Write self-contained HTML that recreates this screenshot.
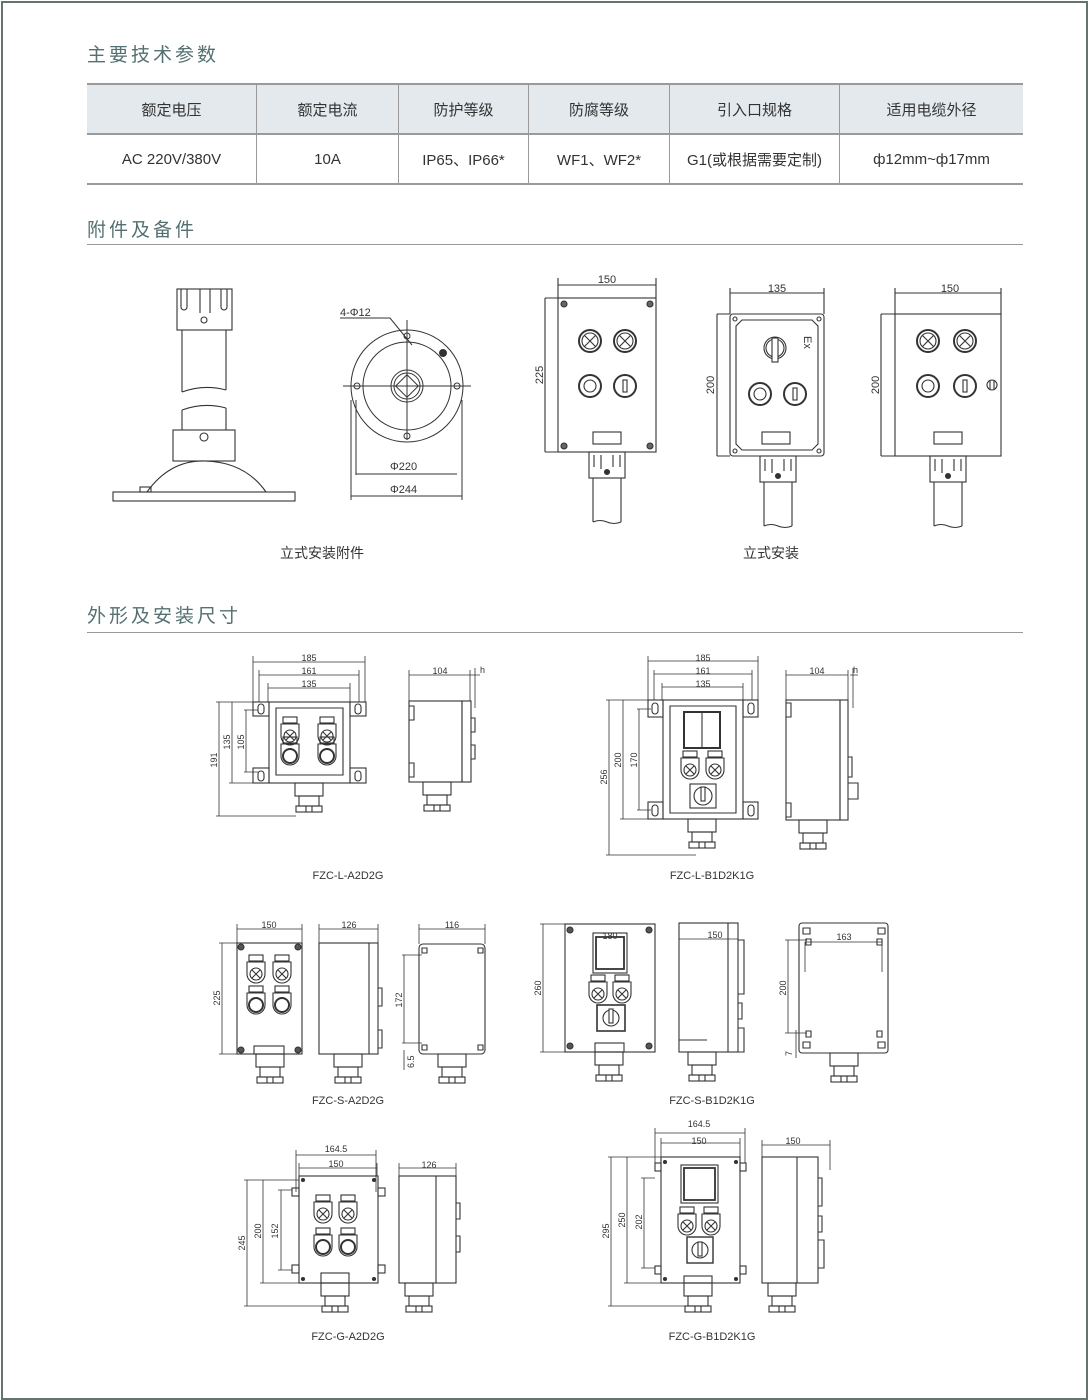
<!DOCTYPE html>
<html><head><meta charset="utf-8"><style>
html,body{margin:0;padding:0;background:#fff;}
body{width:1088px;height:1400px;position:relative;overflow:hidden;font-family:"Liberation Sans","Noto Sans CJK SC",sans-serif;}
.frame{position:absolute;left:1px;top:1px;width:1083px;height:1395px;border:2px solid #66746f;box-sizing:content-box;}
.h{position:absolute;left:87px;color:#557070;font-size:19px;letter-spacing:3px;}
.rule{position:absolute;left:87px;width:936px;height:1px;background:#999;}
table{position:absolute;left:87px;top:83px;width:936px;border-collapse:collapse;font-size:15px;color:#333;}
td{text-align:center;border-left:1px solid #9a9a9a;height:48px;padding:0;}
td:first-child{border-left:none;}
tr.hd td{background:#e3e9ed;border-bottom:2px solid #9a9a9a;border-top:2px solid #9a9a9a;}
tr.bd td{border-bottom:2px solid #9a9a9a;}
svg{position:absolute;left:0;top:0;}
svg text{fill:#333;stroke:none;}
</style></head><body>
<div class="frame"></div>
<div class="h" style="top:40px">主要技术参数</div>
<table>
<tr class="hd"><td style="width:169px">额定电压</td><td style="width:141px">额定电流</td><td style="width:129px">防护等级</td><td style="width:140px">防腐等级</td><td style="width:169px">引入口规格</td><td>适用电缆外径</td></tr>
<tr class="bd"><td>AC 220V/380V</td><td>10A</td><td>IP65、IP66*</td><td>WF1、WF2*</td><td>G1(或根据需要定制)</td><td>ф12mm~ф17mm</td></tr>
</table>
<div class="h" style="top:215px">附件及备件</div>
<div class="rule" style="top:244px"></div>
<div class="h" style="top:601px">外形及安装尺寸</div>
<div class="rule" style="top:632px"></div>

<svg width="1088" height="1400" viewBox="0 0 1088 1400" fill="none" stroke="#333" stroke-width="1.1" font-family="Liberation Sans, sans-serif">
<defs>
<g id="lamp"><circle r="11" stroke-width="2"/><circle r="8"/><path d="M-5.5-5.5L5.5 5.5M5.5-5.5L-5.5 5.5"/></g>
<g id="btnO"><circle r="11" stroke-width="2"/><circle r="6"/></g>
<g id="btnI"><circle r="11" stroke-width="2"/><rect x="-2" y="-6" width="4" height="12"/></g>
<g id="slamp"><rect x="-7" y="-15" width="14" height="6"/><path d="M-9-8h18v12a9 9 0 0 1-18 0z"/><circle cy="4" r="6"/><path d="M-4 0l8 8M4 0l-8 8"/></g>
<g id="sbtn"><rect x="-7" y="-15" width="14" height="6"/><path d="M-9-8h18v12a9 9 0 0 1-18 0z"/><ellipse cy="4" rx="7" ry="7" stroke-width="2"/></g>
<g id="gland"><rect x="-14" y="0" width="28" height="13"/><rect x="-10" y="13" width="20" height="10"/><rect x="-13" y="23" width="26" height="6"/><path d="M-3 23v6M3 23v6"/></g>
<g id="cable"><rect x="-18" y="0" width="36" height="26"/><path d="M-13 3v12M-6 3v14M6 3v12M13 3v12"/><circle cy="20" r="2.5" fill="#333"/><path d="M-14 26v44M14 26v44M-14 70q7-3 14 0t14 0"/></g>
</defs>

<!-- stand -->
<rect x="177" y="289" width="55" height="41"/>
<path d="M181 289v18a3 3 0 0 0 6 0v-18M200 289v24M210 289v24M221 289v18a3 3 0 0 0 6 0v-18"/>
<circle cx="204" cy="320" r="3"/>
<path d="M182 330v62M226 330v60M182 392q22-8 44-2"/>
<path d="M182 410q22-8 44-2M182 410v20M226 408v22"/>
<rect x="173" y="430" width="62" height="31"/>
<circle cx="204" cy="437" r="4"/>
<path d="M147 492Q170 460 205 461Q245 462 266 492"/>
<rect x="113" y="492" width="182" height="9"/>
<rect x="140" y="487" width="11" height="5"/>
<!-- flange -->
<g stroke-width="1">
<circle cx="407" cy="386" r="56"/><circle cx="407" cy="386" r="44"/>
<circle cx="407" cy="386" r="16"/><circle cx="407" cy="386" r="13"/>
<rect x="399" y="378" width="16" height="16" transform="rotate(45 407 386)"/>
<path d="M343 386h128M407 320v120"/>
<circle cx="407" cy="336" r="3"/><circle cx="407" cy="436" r="3"/><circle cx="357" cy="386" r="3"/><circle cx="457" cy="386" r="3"/>
<path d="M340 318h50l22 27M351 400v100M462 400v100M356 400v75"/>
<path d="M356 474h101M351 496h111"/>
<circle cx="443" cy="353" r="3.5" fill="#333"/>
</g>
<text x="340" y="316" font-size="11">4-Φ12</text>
<text x="390" y="470" font-size="11">Φ220</text>
<text x="390" y="493" font-size="11">Φ244</text>
<text x="322" y="558" font-size="14" text-anchor="middle" font-family="Liberation Sans, Noto Sans CJK SC, sans-serif">立式安装附件</text>

<!-- box1 -->
<rect x="558" y="298" width="98" height="154"/>
<circle cx="564" cy="304" r="3" fill="#666"/><circle cx="650" cy="304" r="3" fill="#666"/><circle cx="564" cy="446" r="3" fill="#666"/><circle cx="650" cy="446" r="3" fill="#666"/>
<use href="#lamp" x="590" y="341"/><use href="#lamp" x="625" y="341"/><use href="#btnO" x="590" y="386"/><use href="#btnI" x="625" y="386"/>
<rect x="593" y="432" width="28" height="12"/>
<use href="#cable" x="607" y="452"/>
<path d="M558 278v20M656 278v20M558 285h98M545 298h13M545 452h13M545 298v154"/>
<text x="607" y="283" font-size="11" text-anchor="middle">150</text>
<text transform="translate(543 375) rotate(-90)" font-size="11" text-anchor="middle">225</text>
<!-- box2 -->
<rect x="730" y="314" width="94" height="142" rx="3"/>
<path d="M742 320h70l6 6v118l-6 6h-70l-6-6v-118z"/>
<circle cx="735" cy="319" r="2"/><circle cx="819" cy="319" r="2"/><circle cx="735" cy="451" r="2"/><circle cx="819" cy="451" r="2"/>
<circle cx="775" cy="348" r="11"/><circle cx="775" cy="348" r="9"/><rect x="772" y="338" width="6" height="24" fill="#fff"/>
<use href="#btnO" x="760" y="394"/><use href="#btnI" x="795" y="394"/>
<rect x="762" y="432" width="28" height="12"/>
<text transform="translate(804 336) rotate(90)" font-size="11">Ex</text>
<use href="#cable" x="778" y="456"/>
<path d="M730 288v26M824 288v26M730 293h94M717 314h13M717 456h13M717 314v142"/>
<text x="777" y="292" font-size="11" text-anchor="middle">135</text>
<text transform="translate(714 385) rotate(-90)" font-size="11" text-anchor="middle">200</text>
<!-- box3 -->
<rect x="895" y="314" width="106" height="142"/>
<use href="#lamp" x="928" y="341"/><use href="#lamp" x="965" y="341"/><use href="#btnO" x="928" y="386"/><use href="#btnI" x="965" y="386"/>
<circle cx="992" cy="385" r="5"/><path d="M990 381v8M994 381v8"/>
<rect x="934" y="432" width="28" height="12"/>
<use href="#cable" x="948" y="456"/>
<path d="M895 288v26M1001 288v26M895 293h106M881 314h14M881 456h14M881 314v142"/>
<text x="950" y="292" font-size="11" text-anchor="middle">150</text>
<text transform="translate(879 385) rotate(-90)" font-size="11" text-anchor="middle">200</text>
<text x="771" y="558" font-size="14" text-anchor="middle" font-family="Liberation Sans, Noto Sans CJK SC, sans-serif">立式安装</text>

<g font-size="9" fill="none">
<!-- FZC-L-A2D2G -->
<rect x="269" y="702" width="81" height="81"/>
<path d="M276 708h67v67h-67z"/>
<rect x="253" y="702" width="16" height="14"/><rect x="350" y="702" width="16" height="14"/><rect x="253" y="768" width="16" height="15"/><rect x="350" y="768" width="16" height="15"/>
<rect x="258" y="704" width="6" height="10" rx="3"/><rect x="355" y="704" width="6" height="10" rx="3"/><rect x="258" y="771" width="6" height="10" rx="3"/><rect x="355" y="771" width="6" height="10" rx="3"/>
<use href="#slamp" x="290" y="732"/><use href="#slamp" x="327" y="732"/><use href="#sbtn" x="290" y="752"/><use href="#sbtn" x="327" y="752"/>
<use href="#gland" x="309" y="783"/>
<path d="M253 656v46M365 656v46M253 662h112M259 670v32M359 670v32M259 675h100M268 683v19M350 683v19M268 688h82M216 702h37M216 816h80M219 702v114M229 783h24M232 702v81M244 710h14M244 772h14M246 710v62" stroke-width="0.8"/>
<text x="309" y="661" text-anchor="middle">185</text><text x="309" y="674" text-anchor="middle">161</text><text x="309" y="687" text-anchor="middle">135</text>
<text transform="translate(217 760) rotate(-90)" text-anchor="middle">191</text><text transform="translate(230 742) rotate(-90)" text-anchor="middle">135</text><text transform="translate(244 742) rotate(-90)" text-anchor="middle">105</text>
<rect x="409" y="701" width="53" height="81"/><rect x="462" y="701" width="9" height="81"/>
<path d="M471 718h4v14h-4M471 745h4v14h-4M409 706h5v14h-5M409 763h5v14h-5"/>
<use href="#gland" x="437" y="782"/>
<path d="M409 670v31M470 670v31M409 675h61M475 668v40M480 675h-10" stroke-width="0.8"/>
<text x="440" y="674" text-anchor="middle">104</text><text x="480" y="673">h</text>
<text x="348" y="879" font-size="11" text-anchor="middle">FZC-L-A2D2G</text>

<!-- FZC-L-B1D2K1G -->
<rect x="663" y="700" width="80" height="119"/>
<path d="M670 706h66v107h-66z"/>
<rect x="648" y="700" width="15" height="17"/><rect x="743" y="700" width="15" height="17"/><rect x="648" y="802" width="15" height="17"/><rect x="743" y="802" width="15" height="17"/>
<rect x="652" y="703" width="6" height="11" rx="3"/><rect x="748" y="703" width="6" height="11" rx="3"/><rect x="652" y="805" width="6" height="11" rx="3"/><rect x="748" y="805" width="6" height="11" rx="3"/>
<rect x="684" y="712" width="36" height="36" stroke-width="2"/><path d="M702 712v36"/>
<use href="#slamp" x="690" y="766"/><use href="#slamp" x="715" y="766"/>
<rect x="690" y="784" width="26" height="24"/><circle cx="703" cy="796" r="9"/><rect x="701" y="787" width="4" height="14" fill="#fff"/>
<use href="#gland" x="702" y="819"/>
<path d="M648 656v44M758 656v44M648 661h110M654 670v30M752 670v30M654 674h98M662 683v17M743 683v17M662 687h81M606 700h42M606 855h90M609 700v155M620 819h43M623 700v119M637 709h14M637 810h14M639 709v101" stroke-width="0.8"/>
<text x="703" y="661" text-anchor="middle">185</text><text x="703" y="674" text-anchor="middle">161</text><text x="703" y="687" text-anchor="middle">135</text>
<text transform="translate(607 777) rotate(-90)" text-anchor="middle">256</text><text transform="translate(621 760) rotate(-90)" text-anchor="middle">200</text><text transform="translate(637 760) rotate(-90)" text-anchor="middle">170</text>
<rect x="786" y="700" width="54" height="120"/><rect x="840" y="700" width="8" height="120"/>
<path d="M848 757h4v20h-4M848 783h10v16h-10M786 703h5v14h-5M786 803h5v14h-5"/>
<use href="#gland" x="813" y="820"/>
<path d="M786 670v30M848 670v30M786 675h62M853 668v40M858 675h-8" stroke-width="0.8"/>
<text x="817" y="674" text-anchor="middle">104</text><text x="853" y="673">h</text>
<text x="712" y="879" font-size="11" text-anchor="middle">FZC-L-B1D2K1G</text>

<!-- FZC-S-A2D2G -->
<rect x="237" y="943" width="65" height="111"/>
<circle cx="241" cy="947" r="3" fill="#555"/><circle cx="298" cy="947" r="3" fill="#555"/><circle cx="241" cy="1050" r="3" fill="#555"/><circle cx="298" cy="1050" r="3" fill="#555"/>
<use href="#slamp" x="256" y="970"/><use href="#slamp" x="282" y="970"/><use href="#sbtn" x="256" y="1001"/><use href="#sbtn" x="282" y="1001"/>
<rect x="254" y="1046" width="30" height="8"/>
<use href="#gland" x="270" y="1054"/>
<path d="M237 924v19M302 924v19M237 929h65M219 943h18M219 1054h18M222 943v111" stroke-width="0.8"/>
<text x="269" y="928" text-anchor="middle">150</text><text transform="translate(220 998) rotate(-90)" text-anchor="middle">225</text>
<rect x="319" y="943" width="59" height="111"/><path d="M369 943v111M378 988h4v18h-4M378 1030h4v18h-4"/>
<use href="#gland" x="348" y="1054"/>
<path d="M319 924v19M378 924v19M319 929h59" stroke-width="0.8"/>
<text x="349" y="928" text-anchor="middle">126</text>
<rect x="419" y="944" width="66" height="110" rx="4"/>
<path d="M422 948h5v5h-5zM478 948h5v5h-5zM422 1045h5v5h-5zM478 1045h5v5h-5z"/>
<use href="#gland" x="452" y="1054"/>
<path d="M419 924v20M485 924v20M419 929h66M402 955h20M402 1043h20M404 955v88M404 1070v-20" stroke-width="0.8"/>
<text x="452" y="928" text-anchor="middle">116</text><text transform="translate(402 1000) rotate(-90)" text-anchor="middle">172</text><text transform="translate(414 1068) rotate(-90)">6.5</text>
<text x="348" y="1104" font-size="11" text-anchor="middle">FZC-S-A2D2G</text>

<!-- FZC-S-B1D2K1G -->
<rect x="565" y="924" width="90" height="128"/>
<circle cx="570" cy="930" r="3" fill="#555"/><circle cx="649" cy="930" r="3" fill="#555"/><circle cx="570" cy="1046" r="3" fill="#555"/><circle cx="649" cy="1046" r="3" fill="#555"/>
<rect x="593" y="933" width="34" height="40"/><rect x="596" y="937" width="28" height="32" stroke-width="1.8"/>
<use href="#slamp" x="598" y="990"/><use href="#slamp" x="622" y="990"/>
<rect x="597" y="1005" width="28" height="26" stroke-width="1.6"/><circle cx="611" cy="1018" r="8"/><rect x="609" y="1009" width="4" height="14" fill="#fff"/>
<rect x="595" y="1043" width="29" height="9"/>
<use href="#gland" x="609" y="1052"/>
<path d="M540 924h25M540 1052h25M543 924v128" stroke-width="0.8"/>
<text transform="translate(541 988) rotate(-90)" text-anchor="middle">260</text>
<text x="610" y="939" text-anchor="middle">180</text>
<rect x="679" y="923" width="59" height="129"/><path d="M728 923v129M738 940h6v54h-6M738 1003h4v16h-4M738 1028h6v24h-6M679 1040h28"/>
<path d="M679 939h59" stroke-width="0.8"/>
<use href="#gland" x="702" y="1052"/>
<text x="715" y="938" text-anchor="middle">150</text>
<rect x="799" y="923" width="89" height="130" rx="3"/>
<path d="M803 928h7v6h-7zM878 928h7v6h-7zM803 1042h7v6h-7zM878 1042h7v6h-7zM806 939h5v6h-5zM877 939h5v6h-5zM806 1031h5v6h-5zM877 1031h5v6h-5z"/>
<path d="M805 942h77M805 942v30M882 942v30M785 940h22M785 1033h22M788 940v93M796 1030v28" stroke-width="0.8"/>
<use href="#gland" x="844" y="1053"/>
<text x="844" y="940" text-anchor="middle">163</text>
<text transform="translate(786 988) rotate(-90)" text-anchor="middle">200</text>
<text transform="translate(792 1056) rotate(-90)">7</text>
<text x="712" y="1104" font-size="11" text-anchor="middle">FZC-S-B1D2K1G</text>

<!-- FZC-G-A2D2G -->
<rect x="299" y="1176" width="79" height="107"/>
<rect x="292" y="1188" width="7" height="8"/><rect x="378" y="1188" width="7" height="8"/><rect x="292" y="1265" width="7" height="8"/><rect x="378" y="1265" width="7" height="8"/>
<circle cx="303" cy="1180" r="1.5" fill="#333"/><circle cx="374" cy="1180" r="1.5" fill="#333"/><circle cx="303" cy="1279" r="1.5" fill="#333"/><circle cx="374" cy="1279" r="1.5" fill="#333"/>
<use href="#slamp" x="323" y="1210"/><use href="#slamp" x="348" y="1210"/><use href="#sbtn" x="323" y="1243"/><use href="#sbtn" x="348" y="1243"/>
<rect x="321" y="1273" width="28" height="10"/>
<use href="#gland" x="335" y="1283"/>
<path d="M296 1150v42M376 1150v42M296 1155h80M299 1163v13M377 1163v13M299 1168h78M244 1180h55M244 1306h90M247 1180v126M260 1283h39M263 1180v103M278 1190h14M278 1270h14M281 1190v80" stroke-width="0.8"/>
<text x="336" y="1152" text-anchor="middle">164.5</text><text x="336" y="1167" text-anchor="middle">150</text>
<text transform="translate(245 1243) rotate(-90)" text-anchor="middle">245</text><text transform="translate(261 1231) rotate(-90)" text-anchor="middle">200</text><text transform="translate(278 1231) rotate(-90)" text-anchor="middle">152</text>
<rect x="399" y="1176" width="57" height="107"/><path d="M436 1176v107M456 1203h4v16h-4M456 1236h4v16h-4"/>
<use href="#gland" x="419" y="1283"/>
<path d="M399 1163v13M456 1163v13M399 1168h57" stroke-width="0.8"/>
<text x="429" y="1168" text-anchor="middle">126</text>
<text x="348" y="1340" font-size="11" text-anchor="middle">FZC-G-A2D2G</text>

<!-- FZC-G-B1D2K1G -->
<rect x="661" y="1157" width="79" height="126"/>
<rect x="655" y="1163" width="6" height="8"/><rect x="740" y="1163" width="6" height="8"/><rect x="655" y="1266" width="6" height="8"/><rect x="740" y="1266" width="6" height="8"/>
<circle cx="665" cy="1162" r="1.5" fill="#333"/><circle cx="736" cy="1162" r="1.5" fill="#333"/><circle cx="665" cy="1279" r="1.5" fill="#333"/><circle cx="736" cy="1279" r="1.5" fill="#333"/>
<rect x="681" y="1165" width="37" height="38"/><rect x="684" y="1168" width="31" height="32" stroke-width="1.8"/>
<use href="#slamp" x="687" y="1222"/><use href="#slamp" x="711" y="1222"/>
<rect x="687" y="1237" width="26" height="26" stroke-width="1.4"/><circle cx="700" cy="1250" r="8"/><rect x="698" y="1242" width="4" height="14" fill="#fff"/>
<rect x="684" y="1276" width="28" height="7"/>
<use href="#gland" x="698" y="1283"/>
<path d="M655 1128v35M745 1128v35M655 1133h90M661 1138v19M740 1138v19M661 1143h79M608 1157h53M608 1306h90M611 1157v149M624 1283h37M627 1157v126M641 1178h14M641 1268h14M644 1178v90" stroke-width="0.8"/>
<text x="699" y="1127" text-anchor="middle">164.5</text><text x="699" y="1144" text-anchor="middle">150</text>
<text transform="translate(609 1231) rotate(-90)" text-anchor="middle">295</text><text transform="translate(625 1220) rotate(-90)" text-anchor="middle">250</text><text transform="translate(642 1222) rotate(-90)" text-anchor="middle">202</text>
<rect x="762" y="1157" width="56" height="126"/><path d="M797 1157v126M818 1178h4v28h-4M818 1216h4v16h-4M818 1240h6v28h-6"/>
<use href="#gland" x="782" y="1283"/>
<path d="M762 1140v17M830 1140v30M762 1145h68" stroke-width="0.8"/>
<text x="793" y="1144" text-anchor="middle">150</text>
<text x="712" y="1340" font-size="11" text-anchor="middle">FZC-G-B1D2K1G</text>
</g>
</svg>
</body></html>
